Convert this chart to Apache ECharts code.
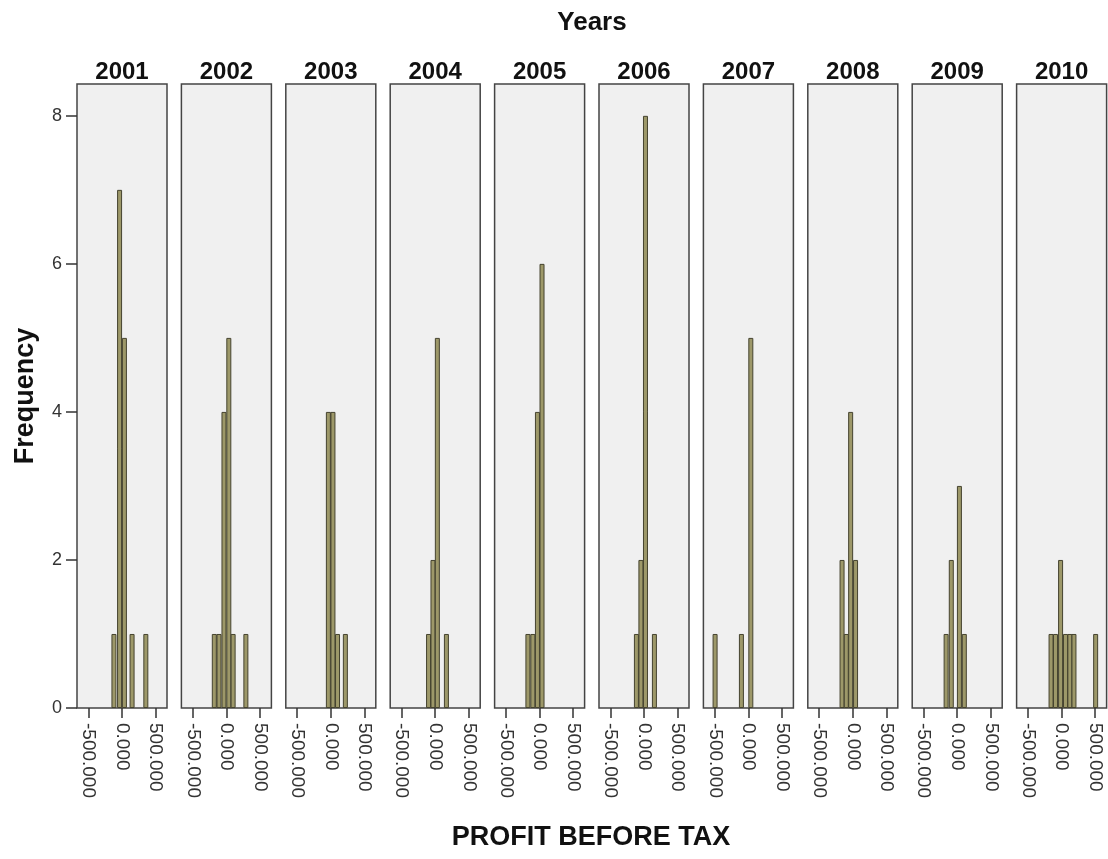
<!DOCTYPE html>
<html>
<head>
<meta charset="utf-8">
<script src="https://cdn.jsdelivr.net/npm/echarts@6/dist/echarts.min.js"></script>
<style>
html,body{margin:0;padding:0;background:#fff;}
#chart{width:1108px;height:859px;}
</style>
</head>
<body>
<div id="chart"></div>
<script>
// ---- data ----
const years = ['2001','2002','2003','2004','2005','2006','2007','2008','2009','2010'];
const pbt2001 = [[-120000,1],[-36000,7],[36000,5],[150000,1],[355000,1]];
const pbt2002 = [[-180000,1],[-110000,1],[-36000,4],[36000,5],[100000,1],[290000,1]];
const pbt2003 = [[-36000,4],[32000,4],[100000,1],[217000,1]];
const pbt2004 = [[-99000,1],[-33000,2],[32000,5],[167000,1]];
const pbt2005 = [[-174000,1],[-101000,1],[-32000,4],[36000,6]];
const pbt2006 = [[-113000,1],[-46000,2],[22000,8],[155000,1]];
const pbt2007 = [[-496000,1],[-104000,1],[36000,5]];
const pbt2008 = [[-160000,2],[-97000,1],[-32000,4],[41000,2]];
const pbt2009 = [[-165000,1],[-88000,2],[33000,3],[106000,1]];
const pbt2010 = [[-157000,1],[-91000,1],[-15000,2],[58000,1],[123000,1],[184000,1],[507000,1]];
const seriesData = [pbt2001,pbt2002,pbt2003,pbt2004,pbt2005,pbt2006,pbt2007,pbt2008,pbt2009,pbt2010];
const xTickValues = [-500000, 0, 500000];
const xTickLabels = ['-500.000', '0.000', '500.000'];
const yTickValues = [0, 2, 4, 6, 8];

// ---- layout ----
const panelLeft0 = 77, panelStride = 104.4, panelWidth = 90;
const panelTop = 84, panelHeight = 624;
const fontFamily = '"Liberation Sans", Arial, sans-serif';

const grids = [], xAxes = [], yAxes = [], series = [], graphics = [];
years.forEach((yr, i) => {
  const left = panelLeft0 + i * panelStride;
  grids.push({
    left: left, top: panelTop, width: panelWidth, height: panelHeight,
    show: true, backgroundColor: '#f0f0f0', borderColor: '#444444', borderWidth: 1.5,
    containLabel: false
  });
  xAxes.push({
    type: 'value', gridIndex: i, min: -670000, max: 670000,
    splitLine: { show: false },
    axisLine: { show: false, onZero: false },
    axisTick: { show: true, length: 10, customValues: xTickValues, lineStyle: { color: '#333', width: 1.5 } },
    axisLabel: {
      show: true, customValues: xTickValues, rotate: -90, margin: 15,
      fontSize: 19, color: '#333', fontFamily: fontFamily,
      formatter: v => { const k = xTickValues.indexOf(v); return k >= 0 ? xTickLabels[k] : ''; }
    }
  });
  yAxes.push({
    type: 'value', gridIndex: i, min: 0, max: 8.43,
    splitLine: { show: false },
    axisLine: { show: false, onZero: false },
    axisTick: { show: i === 0, length: 11, customValues: yTickValues, lineStyle: { color: '#333', width: 1.5 } },
    axisLabel: { show: i === 0, customValues: yTickValues, margin: 15, fontSize: 18, color: '#333', fontFamily: fontFamily },
    name: i === 0 ? 'Frequency' : '',
    nameLocation: 'middle', nameRotate: 90, nameGap: 38,
    nameTextStyle: { fontSize: 27, fontWeight: 'bold', color: '#111', fontFamily: fontFamily }
  });
  series.push({
    type: 'bar', xAxisIndex: i, yAxisIndex: i,
    data: seriesData[i], barWidth: 5,
    itemStyle: { color: '#9d9869', borderColor: '#45432f', borderWidth: 1 },
    animation: false
  });
  graphics.push({
    type: 'text', x: left + panelWidth / 2, y: panelTop - 12,
    style: { text: yr, fill: '#111', font: 'bold 24px ' + fontFamily, align: 'center', verticalAlign: 'middle', textAlign: 'center', textVerticalAlign: 'middle' }
  });
});
graphics.push({
  type: 'text', x: 592, y: 23,
  style: { text: 'Years', fill: '#111', font: 'bold 26px ' + fontFamily, align: 'center', verticalAlign: 'middle', textAlign: 'center', textVerticalAlign: 'middle' }
});
graphics.push({
  type: 'text', x: 591, y: 838,
  style: { text: 'PROFIT BEFORE TAX', fill: '#111', font: 'bold 27px ' + fontFamily, align: 'center', verticalAlign: 'middle', textAlign: 'center', textVerticalAlign: 'middle' }
});

const chart = echarts.init(document.getElementById('chart'), null, { renderer: 'canvas' });
chart.setOption({
  backgroundColor: '#ffffff',
  animation: false,
  grid: grids, xAxis: xAxes, yAxis: yAxes, series: series,
  graphic: graphics
});
</script>
</body>
</html>
